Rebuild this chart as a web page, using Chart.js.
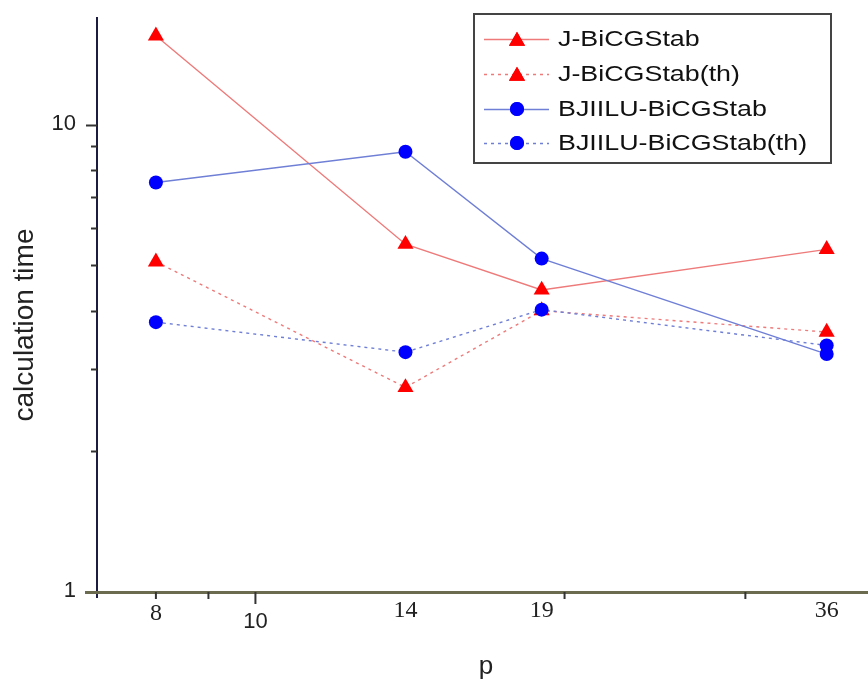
<!DOCTYPE html>
<html>
<head>
<meta charset="utf-8">
<script src="https://cdn.jsdelivr.net/npm/chart.js@4.4.1/dist/chart.umd.min.js"></script>
<style>
  html, body { margin: 0; padding: 0; background: #fff; }
  #wrap { width: 868px; height: 679px; position: relative; }
</style>
</head>
<body>
<div id="wrap"><canvas id="chart" width="868" height="679"></canvas></div>
<script>
// ---- data ----
const pValues = [8, 14, 19, 36];
const jBicg = [15.5, 5.55, 4.43, 5.41];
const jBicgTh = [5.09, 2.74, 4.0, 3.6];
const bjBicg = [7.52, 8.75, 5.17, 3.23];
const bjBicgTh = [3.78, 3.26, 4.02, 3.37];
const seriesNames = ['J-BiCGStab', 'J-BiCGStab(th)', 'BJIILU-BiCGStab', 'BJIILU-BiCGStab(th)'];
const yTickLabels = [1, 10];
const yMinorTicks = [2, 3, 4, 5, 6, 7, 8, 9];
const xLabelTicks = [8, 14, 19, 36];
const xMajorTick = 10;
const xMinorTicks = [8, 9, 20, 30];

const toPoints = arr => arr.map((v, i) => ({ x: pValues[i], y: v }));

function makeSet(label, values, lineColor, dash, markerColor, shape, radius, order) {
    return {
        label: label,
        data: toPoints(values),
        borderColor: lineColor,
        borderWidth: 1.4,
        borderDash: dash,
        backgroundColor: markerColor,
        pointBackgroundColor: markerColor,
        pointBorderWidth: 0,
        pointStyle: shape,
        pointRadius: radius,
        pointHoverRadius: radius,
        tension: 0,
        fill: false,
        order: order
    };
}

const datasets = [
    makeSet(seriesNames[0], jBicg, '#ee7a7a', [], '#ff0000', 'triangle', 9.3, 4),
    makeSet(seriesNames[1], jBicgTh, '#ee7a7a', [3, 4], '#ff0000', 'triangle', 9.3, 3),
    makeSet(seriesNames[2], bjBicg, '#6f7fd6', [], '#0000ff', 'circle', 7, 2),
    makeSet(seriesNames[3], bjBicgTh, '#6f7fd6', [3, 4], '#0000ff', 'circle', 7, 1)
];

// ---- axes, labels and legend drawn on top of the library scales ----
const decorPlugin = {
    id: 'decor',
    afterDraw(chart) {
        const ctx = chart.ctx;
        const xs = chart.scales.x;
        const ys = chart.scales.y;
        const area = chart.chartArea;
        ctx.save();

        // y axis line
        ctx.strokeStyle = '#1c1c40';
        ctx.lineWidth = 2;
        ctx.beginPath();
        ctx.moveTo(area.left, area.top);
        ctx.lineTo(area.left, area.bottom + 6);
        ctx.stroke();

        // y ticks
        ctx.strokeStyle = '#333';
        yMinorTicks.forEach(v => {
            const y = Math.round(ys.getPixelForValue(v)) + 0.5;
            ctx.beginPath(); ctx.moveTo(area.left - 6, y); ctx.lineTo(area.left, y); ctx.stroke();
        });
        yTickLabels.forEach(v => {
            const y = Math.round(ys.getPixelForValue(v)) + 0.5;
            ctx.beginPath(); ctx.moveTo(area.left - 11, y); ctx.lineTo(area.left, y); ctx.stroke();
        });

        // x axis line
        ctx.strokeStyle = '#6b6b4f';
        ctx.lineWidth = 3;
        ctx.beginPath();
        ctx.moveTo(area.left - 12, area.bottom + 0.5);
        ctx.lineTo(chart.width, area.bottom + 0.5);
        ctx.stroke();

        // x ticks
        ctx.strokeStyle = '#333';
        ctx.lineWidth = 2;
        xMinorTicks.forEach(v => {
            const x = xs.getPixelForValue(v);
            ctx.beginPath(); ctx.moveTo(x, area.bottom); ctx.lineTo(x, area.bottom + 7); ctx.stroke();
        });
        const xm = xs.getPixelForValue(xMajorTick);
        ctx.beginPath(); ctx.moveTo(xm, area.bottom); ctx.lineTo(xm, area.bottom + 12); ctx.stroke();

        // y tick labels
        ctx.fillStyle = '#222';
        ctx.font = '22px "Liberation Sans", Arial, sans-serif';
        ctx.textAlign = 'right';
        ctx.textBaseline = 'middle';
        yTickLabels.forEach(v => {
            ctx.fillText(String(v), area.left - 21, ys.getPixelForValue(v) - 1);
        });

        // x tick labels
        ctx.textAlign = 'center';
        ctx.font = '24px "Liberation Serif", "Times New Roman", serif';
        xLabelTicks.forEach(v => {
            ctx.fillText(String(v), xs.getPixelForValue(v), area.bottom + (v === 8 ? 22 : 19));
        });
        ctx.font = '22px "Liberation Sans", Arial, sans-serif';
        ctx.fillText(String(xMajorTick), xm, area.bottom + 30);

        // axis titles
        ctx.textBaseline = 'alphabetic';
        ctx.font = '26px "Liberation Sans", Arial, sans-serif';
        ctx.fillText('p', 486, 674);
        ctx.save();
        ctx.translate(33, 325);
        ctx.rotate(-Math.PI / 2);
        ctx.font = '28px "Liberation Sans", Arial, sans-serif';
        ctx.fillText('calculation time', 0, 0);
        ctx.restore();

        // legend
        const box = { left: 474, top: 14, right: 831, bottom: 163 };
        ctx.fillStyle = '#fff';
        ctx.fillRect(box.left, box.top, box.right - box.left, box.bottom - box.top);
        ctx.strokeStyle = '#444';
        ctx.lineWidth = 2;
        ctx.strokeRect(box.left, box.top, box.right - box.left, box.bottom - box.top);
        const rowY = [39, 74, 109, 143];
        chart.data.datasets.forEach((ds, i) => {
            const y = rowY[i];
            ctx.strokeStyle = ds.borderColor;
            ctx.lineWidth = ds.borderWidth;
            ctx.setLineDash(ds.borderDash);
            ctx.beginPath(); ctx.moveTo(484, y + 0.5); ctx.lineTo(549, y + 0.5); ctx.stroke();
            ctx.setLineDash([]);
            ctx.fillStyle = ds.pointBackgroundColor;
            Chart.helpers.drawPoint(ctx, {
                pointStyle: ds.pointStyle,
                radius: ds.pointRadius,
                borderWidth: 0,
                rotation: 0
            }, 517, ds.pointStyle === 'triangle' ? y + 2 : y);
            ctx.fill();
            ctx.save();
            ctx.translate(558, y);
            ctx.scale(1.22, 1);
            ctx.fillStyle = '#111';
            ctx.font = '22px "Liberation Sans", Arial, sans-serif';
            ctx.textAlign = 'left';
            ctx.textBaseline = 'middle';
            ctx.fillText(ds.label, 0, 1);
            ctx.restore();
        });

        ctx.restore();
    }
};

new Chart(document.getElementById('chart'), {
    type: 'line',
    data: { datasets: datasets },
    options: {
        responsive: false,
        animation: false,
        events: [],
        layout: { padding: { top: 17, right: 0, left: 0, bottom: 0 } },
        plugins: { legend: { display: false }, tooltip: { enabled: false } },
        scales: {
            x: {
                type: 'logarithmic',
                min: 7.01,
                max: 38.68,
                grid: { display: false },
                border: { display: false },
                ticks: { display: false },
                afterFit: s => { s.height = 87; }
            },
            y: {
                type: 'logarithmic',
                min: 1,
                max: 17,
                grid: { display: false },
                border: { display: false },
                ticks: { display: false },
                afterFit: s => { s.width = 97; }
            }
        }
    },
    plugins: [decorPlugin]
});
</script>
</body>
</html>
